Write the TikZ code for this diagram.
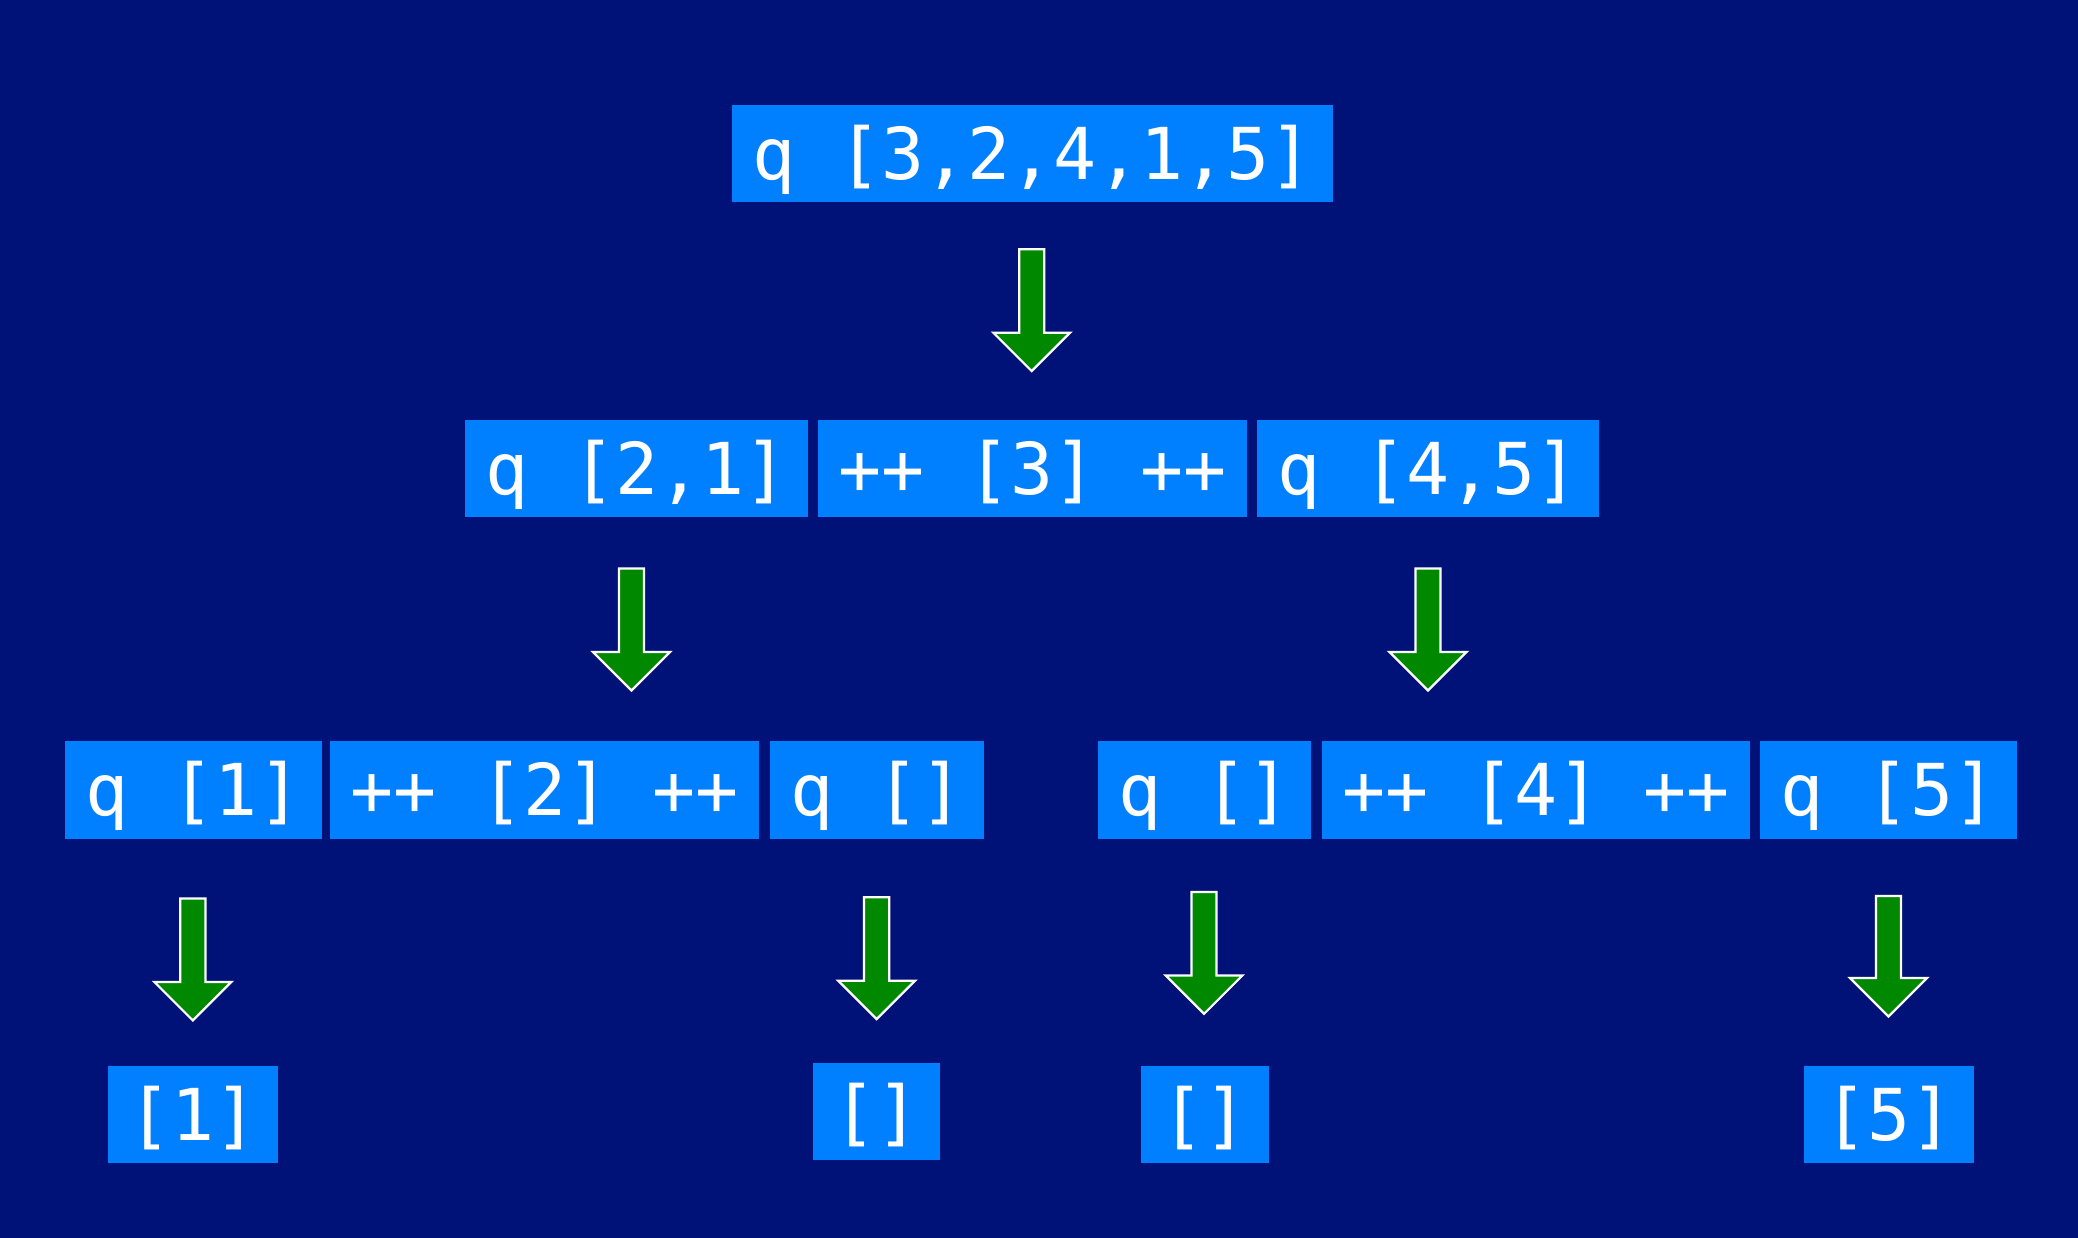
\documentclass[tikz,border=0pt]{standalone}
\usepackage{fontspec}
\setmonofont{DejaVu Sans Mono}
\definecolor{bgblue}{RGB}{0,18,120}
\definecolor{boxblue}{RGB}{0,128,255}
\definecolor{arrowgreen}{RGB}{0,136,0}
\tikzset{
  codebox/.style={fill=boxblue, text=white, anchor=west, inner xsep=15.5pt, inner ysep=0pt,
    minimum height=73.5pt, text height=39.4pt, text depth=0pt,
    font=\ttfamily\fontsize{54}{60}\selectfont},
  fatarrow/.style={fill=arrowgreen, draw=white, line width=1.7pt, line join=miter}
}
\newcommand{\fatdown}[3]{%
  \draw[fatarrow] (#1-9.5,#2) -- (#1+9.5,#2) -- (#1+9.5,#3-29) -- (#1+29,#3-29) -- (#1,#3)
    -- (#1-29,#3-29) -- (#1-9.5,#3-29) -- cycle;}
\begin{document}
\begin{tikzpicture}[x=1pt,y=-1pt]
\fill[bgblue] (0,0) rectangle (1568,934);
\useasboundingbox (0,0) rectangle (1568,934);
% row 1
\node[codebox] (top) at (552,116) {q [3,2,4,1,5]};
% row 2
\node[codebox] (l1) at (351,353.5) {q [2,1]};
\node[codebox] (m1) at (617,353.5) {++ [3] ++};
\node[codebox] (r1) at (948,353.5) {q [4,5]};
% row 3
\node[codebox] (ll) at (49,596) {q [1]};
\node[codebox] (lm) at (249,596) {++ [2] ++};
\node[codebox] (lr) at (581,596) {q []};
\node[codebox] (rl) at (828,596) {q []};
\node[codebox] (rm) at (997,596) {++ [4] ++};
\node[codebox] (rr) at (1328,596) {q [5]};
% row 4
\node[codebox] (b1) at (81,841) {[1]};
\node[codebox] (b2) at (613,838.5) {[]};
\node[codebox] (b3) at (861,841) {[]};
\node[codebox] (b4) at (1361,841) {[5]};
% arrows
\fatdown{778.5}{188}{280}
\fatdown{476.5}{429}{521}
\fatdown{1077.5}{429}{521}
\fatdown{145.5}{678}{770}
\fatdown{661.5}{677}{769}
\fatdown{908.5}{673}{765}
\fatdown{1425}{676}{767}
\end{tikzpicture}
\end{document}
